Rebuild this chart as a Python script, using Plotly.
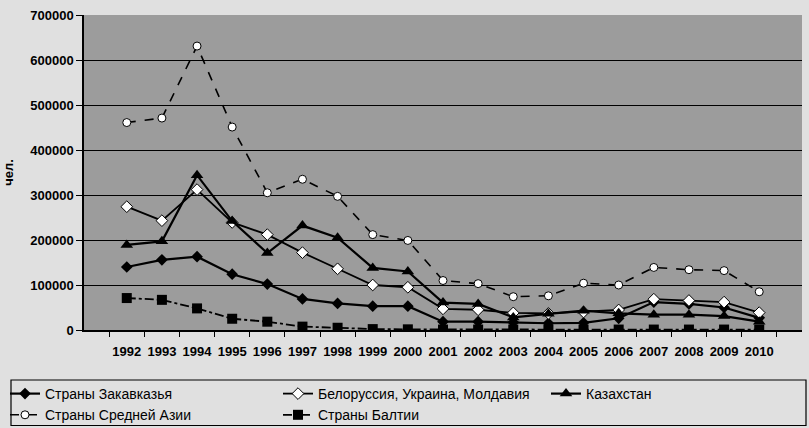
import plotly.graph_objects as go

years = [str(y) for y in range(1992, 2011)]
transcaucasia = [140000, 156000, 163000, 124000, 102000, 69000, 59000, 53000, 53000, 18500,
                 18500, 17000, 15000, 16000, 26000, 62000, 58000, 50000, 27000]
belarus = [274000, 243000, 312000, 239000, 212000, 172000, 136000, 100000, 95000, 47000,
           45000, 38000, 37000, 40000, 44600, 68500, 65500, 62000, 38600]
kazakhstan = [189000, 197000, 344000, 242000, 171000, 232000, 205000, 138000, 130000, 61000,
              58000, 28000, 36000, 43000, 37000, 34000, 34000, 31000, 18500]
central_asia = [461000, 471000, 631000, 451000, 305000, 335000, 297000, 212000, 199000, 110000,
                103000, 74000, 76000, 104000, 100000, 139000, 134000, 132000, 85000]
baltic = [71000, 67000, 48000, 25000, 18500, 7500, 5000, 2000, 1500, 1000,
          1000, 1000, 1000, 1000, 1000, 1000, 1000, 1000, 1000]

names = ["Страны Закавказья", "Белоруссия, Украина, Молдавия", "Казахстан",
         "Страны Средней Азии", "Страны Балтии"]

fig = go.Figure()
fig.add_trace(go.Scatter(x=years, y=transcaucasia, name=names[0], mode="lines+markers",
                         line=dict(color="black", width=2.2),
                         marker=dict(symbol="diamond", size=9, color="black"),
                         legend="legend"))
fig.add_trace(go.Scatter(x=years, y=belarus, name=names[1], mode="lines+markers",
                         line=dict(color="black", width=1.8),
                         marker=dict(symbol="diamond", size=9, color="white",
                                     line=dict(color="black", width=1)),
                         legend="legend2"))
fig.add_trace(go.Scatter(x=years, y=kazakhstan, name=names[2], mode="lines+markers",
                         line=dict(color="black", width=2.2),
                         marker=dict(symbol="triangle-up", size=11, color="black"),
                         legend="legend3"))
fig.add_trace(go.Scatter(x=years, y=central_asia, name=names[3], mode="lines+markers",
                         line=dict(color="black", width=1.6, dash="dash"),
                         marker=dict(symbol="circle", size=8, color="white",
                                     line=dict(color="black", width=1)),
                         legend="legend"))
fig.add_trace(go.Scatter(x=years, y=baltic, name=names[4], mode="lines+markers",
                         line=dict(color="black", width=1.8, dash="dashdot"),
                         marker=dict(symbol="square", size=10, color="black"),
                         legend="legend2"))

L, R, T, B = 84, 7, 15, 98
W, H = 809, 428
pw, ph = W - L - R, H - T - B

def px(xp):
    return (xp - L) / pw

def py(yp):
    return (H - B - yp) / ph

leg_common = dict(orientation="v", xanchor="left", yanchor="top",
                  bgcolor="rgba(0,0,0,0)", borderwidth=0,
                  font=dict(family="Liberation Sans, Arial, sans-serif", size=14, color="black"),
                  tracegroupgap=0, itemwidth=30)

leg_top = 378
fig.update_layout(
    width=W, height=H,
    margin=dict(l=L, r=R, t=T, b=B, autoexpand=False),
    paper_bgcolor="#e0e0e0",
    plot_bgcolor="#9c9c9c",
    legend=dict(x=px(5), y=py(leg_top), **leg_common),
    legend2=dict(x=px(278), y=py(leg_top), **leg_common),
    legend3=dict(x=px(546), y=py(leg_top), **leg_common),
    font=dict(family="Liberation Sans, Arial, sans-serif", color="black"),
    shapes=[dict(type="rect", xref="paper", yref="paper",
                 x0=px(11), x1=px(806), y0=py(380), y1=py(425.5),
                 line=dict(color="black", width=1.2), fillcolor="rgba(0,0,0,0)")],
)

fig.update_xaxes(type="category", tickson="boundaries", ticks="outside", ticklen=5,
                 tickangle=0, ticklabelstandoff=9,
                 tickcolor="black", showline=True, linecolor="black", linewidth=1.5,
                 showgrid=False, zeroline=False, automargin=False,
                 tickfont=dict(family="Liberation Sans, Arial, sans-serif", size=13,
                               color="black", weight="bold"))
fig.update_yaxes(range=[0, 700000], dtick=100000, tickformat="d", ticks="outside", ticklen=6,
                 tickcolor="black", showline=True, linecolor="black", linewidth=1.5,
                 showgrid=True, gridcolor="black", gridwidth=1.2, zeroline=False,
                 automargin=False,
                 tickfont=dict(family="Liberation Sans, Arial, sans-serif", size=13,
                               color="black", weight="bold"),
                 title=dict(text="чел.", standoff=14,
                            font=dict(family="Liberation Sans, Arial, sans-serif", size=13,
                                      color="black", weight="bold")))

fig.write_html("out.html",
               config={"displayModeBar": False},
               post_script="document.body.style.margin='0';document.body.style.background='#e0e0e0';")
